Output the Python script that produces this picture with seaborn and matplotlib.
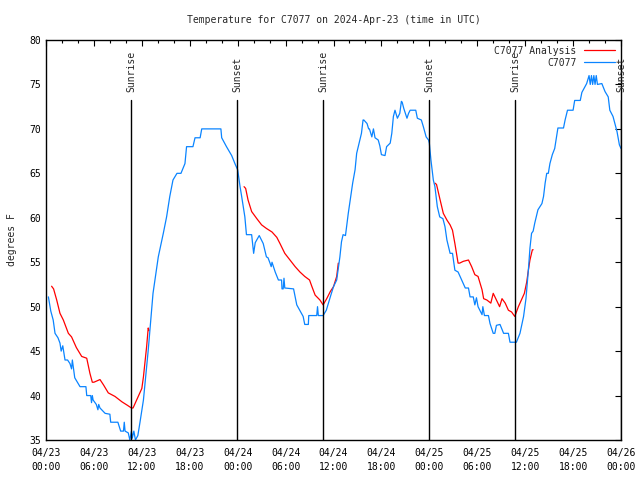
#!/usr/bin/env python3
"""
Temperature trace for station C7077 with analysis overlay and sun events
"""

import numpy as np
import pandas as pd
import matplotlib
matplotlib.use("Agg")
import matplotlib.pyplot as plt
import matplotlib.dates as mdates
import seaborn as sns

START = pd.Timestamp("2024-04-23 00:00")

# Observed temperature (hours since start, degrees F)
obs_hours = [0.3, 0.6, 0.9, 1.13, 1.5, 1.75, 1.9, 2.1, 2.38, 2.7, 3.0, 3.2, 3.3, 3.6,
             4.26, 5.0, 5.1, 5.6, 5.7, 5.8, 5.9, 6.3, 6.5, 6.6, 6.76, 7.4, 8.0, 8.1,
             9.0, 9.35, 9.7, 9.8, 9.9, 10.3, 10.5, 10.7, 10.8, 11.0, 11.2, 11.5, 11.77,
             12.2, 12.8, 13.4, 14.06, 14.7, 15.1, 15.5, 15.9, 16.4, 16.9, 17.4, 17.6,
             18.4, 18.66, 19.3, 19.5, 21.9, 22.0, 22.6, 23.25, 23.7, 24.0, 24.3, 24.5,
             24.9, 25.1, 25.75, 26.0, 26.2, 26.7, 27.2, 27.6, 27.8, 28.05, 28.2, 28.3,
             28.7, 29.1, 29.5, 29.55, 29.7, 29.8, 29.9, 31.0, 31.4, 32.2, 32.4, 32.85,
             32.9, 33.9, 34.0, 34.1, 34.7, 35.1, 35.6, 36.0, 36.4, 36.8, 37.0, 37.2,
             37.5, 37.85, 38.3, 38.4, 38.7, 38.9, 39.3, 39.5, 39.7, 39.8, 40.2, 40.4,
             40.5, 40.8, 41.0, 41.2, 41.6, 41.8, 42.0, 42.45, 42.65, 43.1, 43.3, 43.5,
             43.7, 44.0, 44.3, 44.5, 44.6, 44.8, 45.2, 45.4, 45.6, 46.3, 46.5, 47.0,
             47.25, 47.6, 47.9, 48.0, 48.2, 48.5, 48.7, 49.0, 49.3, 49.7, 49.96, 50.2,
             50.6, 50.9, 51.2, 51.6, 52.05, 52.5, 52.9, 53.1, 53.5, 53.7, 53.9, 54.1,
             54.6, 54.7, 54.9, 55.4, 55.6, 56.0, 56.2, 56.4, 56.85, 57.3, 57.9, 58.1,
             58.9, 59.35, 59.8, 60.1, 60.4, 60.6, 60.8, 61.0, 61.2, 61.6, 62.1, 62.3,
             62.5, 62.7, 62.9, 63.1, 63.4, 63.7, 64.1, 64.8, 65.0, 65.3, 66.0, 66.2,
             66.9, 67.1, 67.7, 68.0, 68.15, 68.3, 68.45, 68.6, 68.75, 68.9, 69.05,
             69.6, 70.0, 70.4, 70.6, 71.0, 71.5, 71.8, 72.0]
obs_temp = [51.1, 49.5, 48.5, 47.0, 46.5, 45.9, 45.0, 45.6, 44.0, 44.0, 43.6, 43.0, 44.0, 42.0,
            41.0, 41.0, 40.0, 40.0, 39.2, 40.0, 39.5, 39.0, 38.4, 39.0, 38.6, 38.0, 37.9, 37.0,
            37.0, 36.0, 36.0, 37.0, 36.0, 35.8, 35.0, 36.0, 35.2, 36.0, 35.0, 35.5, 37.0,
            39.5, 45.1, 51.5, 55.6, 58.3, 60.1, 62.4, 64.25, 65.0, 65.0, 66.1, 68.0,
            68.0, 69.0, 69.0, 70.0, 70.0, 69.0, 68.0, 67.0, 66.0, 65.4, 63.5, 62.4,
            60.1, 58.1, 58.1, 56.0, 57.2, 58.0, 57.1, 55.6, 55.5, 54.9, 54.5, 55.0,
            53.9, 53.0, 53.0, 52.0, 52.0, 53.2, 52.1, 52.0, 50.2, 48.9, 48.0, 48.0,
            49.0, 49.0, 50.0, 49.0, 49.0, 49.6, 51.1, 52.25, 53.0, 55.6, 57.3, 58.1,
            58.0, 60.5, 63.3, 63.9, 65.4, 67.25, 68.75, 69.5, 71.0, 71.0, 70.6, 70.0,
            70.0, 69.1, 70.0, 69.0, 68.75, 68.1, 67.1, 67.0, 68.0, 68.4, 69.5, 71.4,
            72.1, 71.2, 71.75, 73.1, 73.0, 72.3, 71.2, 71.75, 72.1, 72.1, 71.2, 71.0,
            70.25, 69.1, 68.75, 68.4, 66.5, 64.25, 63.5, 61.25, 60.1, 59.9, 59.0, 57.5,
            56.0, 56.0, 54.1, 53.9, 53.0, 52.1, 52.1, 51.1, 51.1, 50.2, 51.0, 50.0,
            49.1, 50.0, 49.0, 49.0, 48.1, 47.0, 47.0, 47.9, 48.0, 47.0, 47.0, 46.0,
            46.0, 47.0, 48.9, 50.9, 54.1, 56.6, 58.25, 58.5, 59.4, 60.9, 61.6, 62.4,
            63.9, 65.0, 65.0, 66.1, 67.1, 67.8, 70.1, 70.1, 71.0, 72.1, 72.1, 73.2,
            73.2, 74.1, 75.1, 76.0, 75.0, 76.0, 75.0, 76.0, 75.0, 76.0, 75.0,
            75.1, 74.2, 73.6, 72.1, 71.4, 69.7, 68.2, 67.8]

# Analysis runs (three separate pieces)
ana1_hours = [0.7, 0.95, 1.34, 1.75, 2.17, 2.8, 3.2, 3.8, 4.47, 5.1, 5.5, 5.8, 6.0, 6.76,
              7.2, 7.8, 8.64, 9.5, 10.2, 10.7, 10.9, 11.35, 12.0, 12.2, 12.6, 12.8, 12.9]
ana1_temp = [52.3, 52.0, 50.75, 49.25, 48.5, 47.0, 46.6, 45.4, 44.4, 44.2, 42.5, 41.5, 41.5, 41.8,
             41.2, 40.3, 39.9, 39.3, 38.9, 38.6, 38.6, 39.5, 40.8, 42.1, 45.5, 47.6, 47.3]
ana2_hours = [24.8, 25.0, 25.3, 25.75, 26.4, 27.0, 27.6, 28.3, 28.9, 29.3, 29.9, 30.55,
              31.2, 31.8, 32.4, 33.0, 33.3, 33.7, 34.3, 34.7, 35.15, 35.6, 36.0, 36.4, 36.6]
ana2_temp = [63.5, 63.3, 62.0, 60.7, 59.9, 59.2, 58.8, 58.4, 57.8, 57.1, 56.0, 55.25,
             54.5, 53.9, 53.4, 53.0, 52.25, 51.3, 50.75, 50.2, 50.9, 51.7, 52.25, 53.4, 54.9]
ana3_hours = [48.7, 48.9, 49.3, 49.75, 50.2, 50.6, 50.9, 51.2, 51.6, 51.8, 52.25, 52.9,
              53.3, 53.7, 54.1, 54.6, 54.8, 55.2, 55.7, 56.0, 56.4, 56.8, 57.1, 57.5,
              57.9, 58.3, 58.7, 59.15, 59.6, 59.9, 60.2, 60.4, 60.6, 60.9, 61.0]
ana3_temp = [63.9, 63.75, 62.2, 60.5, 59.75, 59.2, 58.6, 57.1, 54.9, 54.9, 55.1, 55.25,
             54.5, 53.6, 53.4, 51.9, 50.9, 50.75, 50.4, 51.5, 50.75, 50.0, 50.9, 50.4,
             49.6, 49.4, 48.9, 50.0, 50.9, 51.5, 52.8, 54.1, 55.25, 56.4, 56.4]

# Sun events (hours since start)
event_hours = [10.7, 23.96, 34.73, 48.0, 58.77, 72.0]
event_names = ["Sunrise", "Sunset", "Sunrise", "Sunset", "Sunrise", "Sunset"]

RED = "#ff0000"
BLUE = "#0a84ff"
FONT = "DejaVu Sans Mono"


def to_time(hours):
    return START + pd.to_timedelta(np.asarray(hours), unit="h")


sns.set_style("white")
plt.rcParams["font.family"] = [FONT, "DejaVu Sans"]

fig = plt.figure(figsize=(6.4, 4.8), dpi=100)
ax = fig.add_axes([46 / 640, 40 / 480, 575 / 640, 400 / 480])

# analysis first (legend order), observations on top
for i, (h, t) in enumerate([(ana1_hours, ana1_temp), (ana2_hours, ana2_temp),
                            (ana3_hours, ana3_temp)]):
    df = pd.DataFrame({"time": to_time(h), "temp": t})
    sns.lineplot(data=df, x="time", y="temp", color=RED, lw=0.9, ax=ax,
                 label="C7077 Analysis" if i == 0 else None)

obs = pd.DataFrame({"time": to_time(obs_hours), "temp": obs_temp})
sns.lineplot(data=obs, x="time", y="temp", color=BLUE, lw=0.9, ax=ax, label="C7077")

# sunrise / sunset markers
for h, name in zip(event_hours, event_names):
    t = to_time([h])[0]
    ax.plot([t, t], [35, 73.3], color="black", lw=1.0)
    ax.text(t, 74.1, name, rotation=90, ha="center", va="bottom", fontsize=7)

ax.set_xlim(to_time([0])[0], to_time([72])[0])
ax.set_ylim(35, 80)
ax.set_yticks(range(35, 81, 5))
ax.xaxis.set_major_locator(mdates.HourLocator(byhour=range(0, 24, 6)))
ax.xaxis.set_minor_locator(mdates.HourLocator(byhour=range(0, 24, 2)))
ax.xaxis.set_major_formatter(mdates.DateFormatter("%m/%d\n%H:%M"))
ax.tick_params(which="both", direction="in", top=True, right=True,
               labelsize=7, colors="black", width=0.8)
ax.tick_params(which="major", length=4)
ax.tick_params(which="minor", length=2.5)
ax.tick_params(axis="x", pad=6)
for lbl in ax.get_xticklabels():
    lbl.set_linespacing(1.45)
for s in ax.spines.values():
    s.set_color("black")
    s.set_linewidth(1.0)

ax.set_xlabel("")
ax.set_ylabel("degrees F", fontsize=7, labelpad=9)
ax.set_title("Temperature for C7077 on 2024-Apr-23 (time in UTC)", fontsize=7, pad=12)

leg = ax.legend(loc="upper right", frameon=False, markerfirst=False, fontsize=7,
                handlelength=3.2, handletextpad=0.8, borderaxespad=0.2, labelspacing=0.2)

fig.savefig("out.png", dpi=100)
